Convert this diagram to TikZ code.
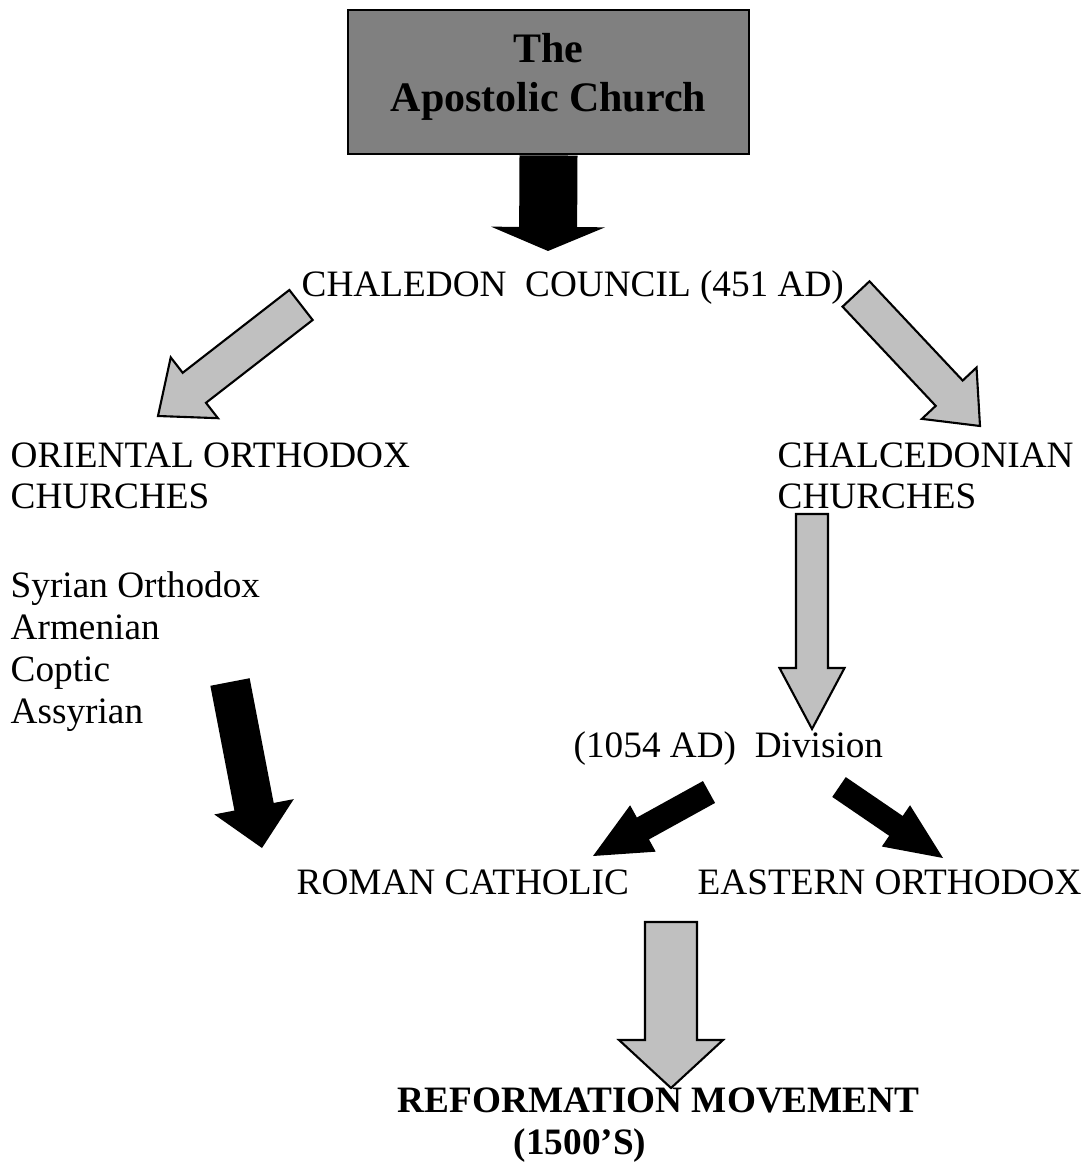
\documentclass[tikz,border=0pt]{standalone}
\usepackage{fontspec}
\setmainfont{Liberation Serif}
\usepackage{tikz}
\usetikzlibrary{calc}

\definecolor{boxgray}{HTML}{808080}
\definecolor{arrowgray}{HTML}{C0C0C0}

% block arrow: [style]{tail}{tip}{half shaft}{half head}{head length}
\newcommand{\bigarrow}[6][]{%
  \pgfmathsetmacro{\neckd}{veclen(#6,#4)}%
  \pgfmathsetmacro{\necka}{atan(#4/#6)}%
  \pgfmathsetmacro{\headd}{veclen(#6,#5)}%
  \pgfmathsetmacro{\heada}{atan(#5/#6)}%
  \draw[#1] ($(#2)!#4cm!90:(#3)$)
    -- ($(#3)!\neckd cm!-\necka:(#2)$)
    -- ($(#3)!\headd cm!-\heada:(#2)$)
    -- (#3)
    -- ($(#3)!\headd cm!\heada:(#2)$)
    -- ($(#3)!\neckd cm!\necka:(#2)$)
    -- ($(#2)!#4cm!-90:(#3)$) -- cycle;}

\tikzset{
  txt/.style={inner sep=0pt, anchor=base west, align=left,
    font=\fontsize{10.6}{11.95}\selectfont},
  blackarr/.style={fill=black, draw=none},
  grayarr/.style={fill=arrowgray, draw=black, line width=0.6pt, line join=miter}
}

\begin{document}
\begin{tikzpicture}
    \useasboundingbox (0,0) rectangle (10.85,-11.64);

    % Top box
    \node[draw, fill=boxgray, line width=0.8pt, minimum width=4.01cm,
      minimum height=1.44cm, align=center, text depth=5.5pt,
      font=\bfseries\fontsize{11.95}{13.9}\selectfont]
      (apostolic) at (5.485,-0.82) {The\\Apostolic Church};

    % Texts (multi-line nodes sit on the baseline of their last line)
    \node[txt] (chaledon) at (3.01,-2.97) {CHALEDON~ COUNCIL (451 AD)};
    \node[txt] (oriental) at (0.10,-5.09) {ORIENTAL ORTHODOX\\CHURCHES};
    \node[txt] (chalced) at (7.77,-5.09) {CHALCEDONIAN\\CHURCHES};
    \node[txt] (members) at (0.10,-7.23) {Syrian Orthodox\\Armenian\\Coptic\\Assyrian};
    \node[txt] (division) at (5.73,-7.57) {(1054 AD)~ Division};
    \node[txt] (roman) at (2.96,-8.94) {ROMAN CATHOLIC};
    \node[txt] (eastern) at (6.97,-8.94) {EASTERN ORTHODOX};
    \node[txt, font=\bfseries\fontsize{10.6}{11.95}\selectfont] (reform)
      at (3.97,-11.54) {REFORMATION MOVEMENT\\\hspace*{1.16cm}(1500’S)};

    % Arrow ends
    \coordinate (chaltop) at (5.48,-2.51);
    \coordinate (oritail) at (3.01,-3.05);
    \coordinate (oritip) at (1.58,-4.16);
    \coordinate (caltail) at (8.56,-2.94);
    \coordinate (caltip) at (9.80,-4.26);
    \coordinate (divtail) at (8.12,-5.14);
    \coordinate (divtip) at (8.12,-7.29);
    \coordinate (memtail) at (2.30,-6.82);
    \coordinate (memtip) at (2.62,-8.48);
    \coordinate (romtail) at (7.09,-7.92);
    \coordinate (romtip) at (5.93,-8.56);
    \coordinate (easttail) at (8.39,-7.87);
    \coordinate (easttip) at (9.43,-8.58);
    \coordinate (reftail) at (6.71,-9.22);
    \coordinate (reftip) at (6.71,-10.88);

    % Arrows
    \bigarrow[blackarr]{apostolic.south}{chaltop}{0.29}{0.57}{0.24}
    \bigarrow[grayarr]{oritail}{oritip}{0.19}{0.385}{0.46}
    \bigarrow[grayarr]{caltail}{caltip}{0.185}{0.375}{0.45}
    \bigarrow[grayarr]{divtail}{divtip}{0.16}{0.325}{0.61}
    \bigarrow[blackarr]{memtail}{memtip}{0.20}{0.405}{0.42}
    \bigarrow[blackarr]{romtail}{romtip}{0.125}{0.265}{0.57}
    \bigarrow[blackarr]{easttail}{easttip}{0.12}{0.25}{0.57}
    \bigarrow[grayarr]{reftail}{reftip}{0.26}{0.52}{0.48}

\end{tikzpicture}
\end{document}
